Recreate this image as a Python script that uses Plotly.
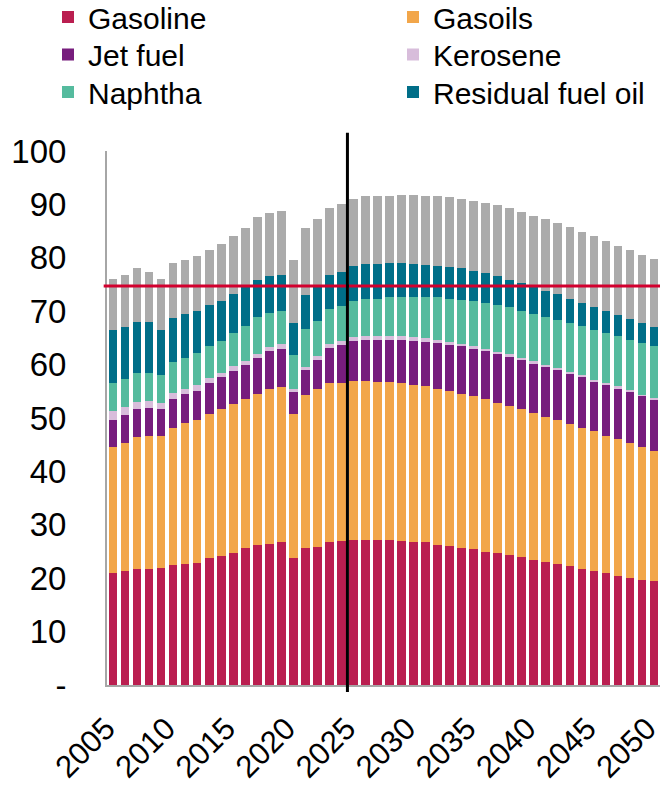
import plotly.graph_objects as go

years = list(range(2005, 2051))

gasoline = [21.0, 21.4, 21.7, 21.7, 22.0, 22.5, 22.7, 22.9, 23.7, 24.2,
            24.8, 25.7, 26.2, 26.4, 26.7, 23.7, 25.6, 25.8, 26.8, 27.0,
            27.2, 27.2, 27.2, 27.2, 27.0, 26.8, 26.7, 26.3, 26.1, 25.7,
            25.4, 25.0, 24.7, 24.3, 23.9, 23.5, 23.1, 22.7, 22.2, 21.8,
            21.4, 21.0, 20.5, 20.1, 19.7, 19.4]
gasoils = [23.6, 23.9, 24.7, 24.9, 24.6, 25.7, 26.3, 26.8, 27.1, 27.5,
           27.8, 27.9, 28.3, 29.0, 29.1, 27.0, 28.7, 29.6, 29.8, 29.6,
           29.8, 29.7, 29.6, 29.5, 29.5, 29.4, 29.2, 29.2, 29.0, 28.8,
           28.7, 28.5, 28.2, 28.0, 27.8, 27.5, 27.1, 26.9, 26.6, 26.3,
           26.1, 25.7, 25.6, 25.2, 24.9, 24.5]
jet_fuel = [5.1, 5.2, 5.2, 5.3, 5.0, 5.3, 5.5, 5.4, 5.8, 5.9,
            6.2, 6.4, 6.8, 7.1, 7.2, 4.1, 4.6, 5.5, 6.6, 7.1,
            7.5, 7.8, 7.9, 8.0, 8.1, 8.3, 8.4, 8.6, 8.6, 8.9,
            8.8, 9.0, 9.1, 9.2, 9.2, 9.2, 9.4, 9.3, 9.5, 9.5,
            9.4, 9.5, 9.5, 9.6, 9.6, 9.6]
kerosene = [1.6, 1.5, 1.4, 1.3, 1.2, 1.1, 1.0, 1.1, 0.9, 0.9,
            0.9, 0.6, 0.6, 0.8, 0.8, 0.6, 0.6, 0.7, 0.7, 0.7,
            0.7, 0.7, 0.7, 0.7, 0.7, 0.6, 0.6, 0.5, 0.5, 0.5,
            0.5, 0.5, 0.4, 0.4, 0.4, 0.5, 0.4, 0.4, 0.4, 0.4,
            0.3, 0.4, 0.3, 0.3, 0.2, 0.2]
naphtha = [5.2, 5.3, 5.5, 5.3, 5.3, 5.9, 5.8, 5.9, 6.0, 6.0,
           6.3, 6.7, 7.0, 6.4, 6.2, 6.4, 7.1, 6.6, 6.5, 6.6,
           6.8, 6.9, 6.9, 7.2, 7.4, 7.6, 7.8, 8.0, 8.1, 8.2,
           8.6, 8.6, 8.8, 8.8, 8.8, 8.8, 9.0, 9.1, 9.1, 9.3,
           9.3, 9.4, 9.5, 9.5, 9.7, 9.8]
residual_fuel_oil = [10.0, 9.7, 9.5, 9.4, 8.4, 8.3, 8.1, 8.0, 7.7, 7.5,
                     7.3, 7.3, 7.0, 6.8, 6.7, 5.9, 6.5, 6.3, 6.4, 6.4,
                     6.5, 6.6, 6.5, 6.4, 6.3, 6.1, 6.0, 5.9, 6.0, 5.9,
                     5.6, 5.5, 5.3, 5.2, 5.2, 5.1, 4.8, 4.8, 4.5, 4.3,
                     4.3, 4.1, 3.9, 3.9, 3.6, 3.5]
other = [9.5, 9.8, 10.0, 9.5, 9.6, 10.2, 10.2, 10.2, 10.3, 10.5,
         10.8, 11.0, 11.7, 11.8, 12.1, 11.9, 12.4, 12.8, 12.5, 12.7,
         12.5, 12.6, 12.8, 12.6, 12.8, 13.0, 12.9, 13.1, 13.0, 13.0,
         13.1, 13.2, 13.4, 13.4, 13.3, 13.3, 13.4, 13.3, 13.4, 13.2,
         13.2, 13.0, 13.0, 12.9, 12.9, 12.7]

reference_level = 74.7
divider_year = 2024.5

y_ticks = [0, 10, 20, 30, 40, 50, 60, 70, 80, 90, 100]
y_ticktext = ["-", "10", "20", "30", "40", "50", "60", "70", "80", "90", "100"]
x_ticks = [2005, 2010, 2015, 2020, 2025, 2030, 2035, 2040, 2045, 2050]

series_names = ["Gasoline", "Gasoils", "Jet fuel", "Kerosene", "Naphtha", "Residual fuel oil"]
series_values = [gasoline, gasoils, jet_fuel, kerosene, naphtha, residual_fuel_oil]
series_colors = ["#BA1E50", "#F2A64A", "#771D7D", "#D8BDDB", "#55BB9E", "#006E88"]
legend_ids = ["legend", "legend2", "legend3", "legend4", "legend5", "legend6"]

fig = go.Figure()
for name, vals, color, lg in zip(series_names, series_values, series_colors, legend_ids):
    fig.add_trace(go.Bar(x=years, y=vals, name=name, marker_color=color,
                         marker_line_width=0, legend=lg))
fig.add_trace(go.Bar(x=years, y=other, name="Other", marker_color="#ABABAB",
                     marker_line_width=0, showlegend=False))

font_family = "Liberation Sans, Arial, sans-serif"

fig.add_shape(type="line", xref="paper", yref="y", x0=-0.006, x1=1,
              y0=reference_level, y1=reference_level,
              line=dict(color="#D2002E", width=3), layer="above")
fig.add_shape(type="line", xref="x", yref="paper", x0=divider_year, x1=divider_year,
              y0=-0.013, y1=1.034, line=dict(color="#000000", width=3), layer="above")

W, H = 664, 785
col_x = [48, 393]
row_y = [17, 54.5, 92]

legend_layouts = {}
for i, lg in enumerate(legend_ids):
    legend_layouts[lg] = dict(
        orientation="v", traceorder="normal",
        font=dict(family=font_family, size=30, color="#000000"),
        bgcolor="rgba(0,0,0,0)", xref="container", yref="container",
        xanchor="left", yanchor="middle", itemwidth=30,
        x=col_x[i % 2] / W, y=1 - row_y[i // 2] / H,
    )

fig.update_layout(
    width=W, height=H,
    barmode="stack", bargap=0.28,
    plot_bgcolor="white", paper_bgcolor="white",
    margin=dict(l=107, r=4, t=151, b=100, autoexpand=False),
    font=dict(family=font_family, color="#000000"),
    xaxis=dict(range=[2004.5, 2050.5], tickmode="array", tickvals=x_ticks,
               tickangle=-45, tickfont=dict(size=31, family=font_family),
               showline=True, linecolor="#A6A6A6", linewidth=2,
               showgrid=False, zeroline=False, ticks="",
               ticklabeloverflow="allow", ticklabelshift=-7, ticklabelstandoff=11),
    yaxis=dict(range=[0, 100], tickmode="array", tickvals=y_ticks,
               ticktext=y_ticktext, tickfont=dict(size=33, family=font_family),
               showline=True, linecolor="#A6A6A6", linewidth=2,
               showgrid=False, zeroline=False, ticks="", ticklabelstandoff=32),
    **legend_layouts,
)

fig.write_html("out.html", config={"displayModeBar": False},
               post_script="document.body.style.margin='0px';")
